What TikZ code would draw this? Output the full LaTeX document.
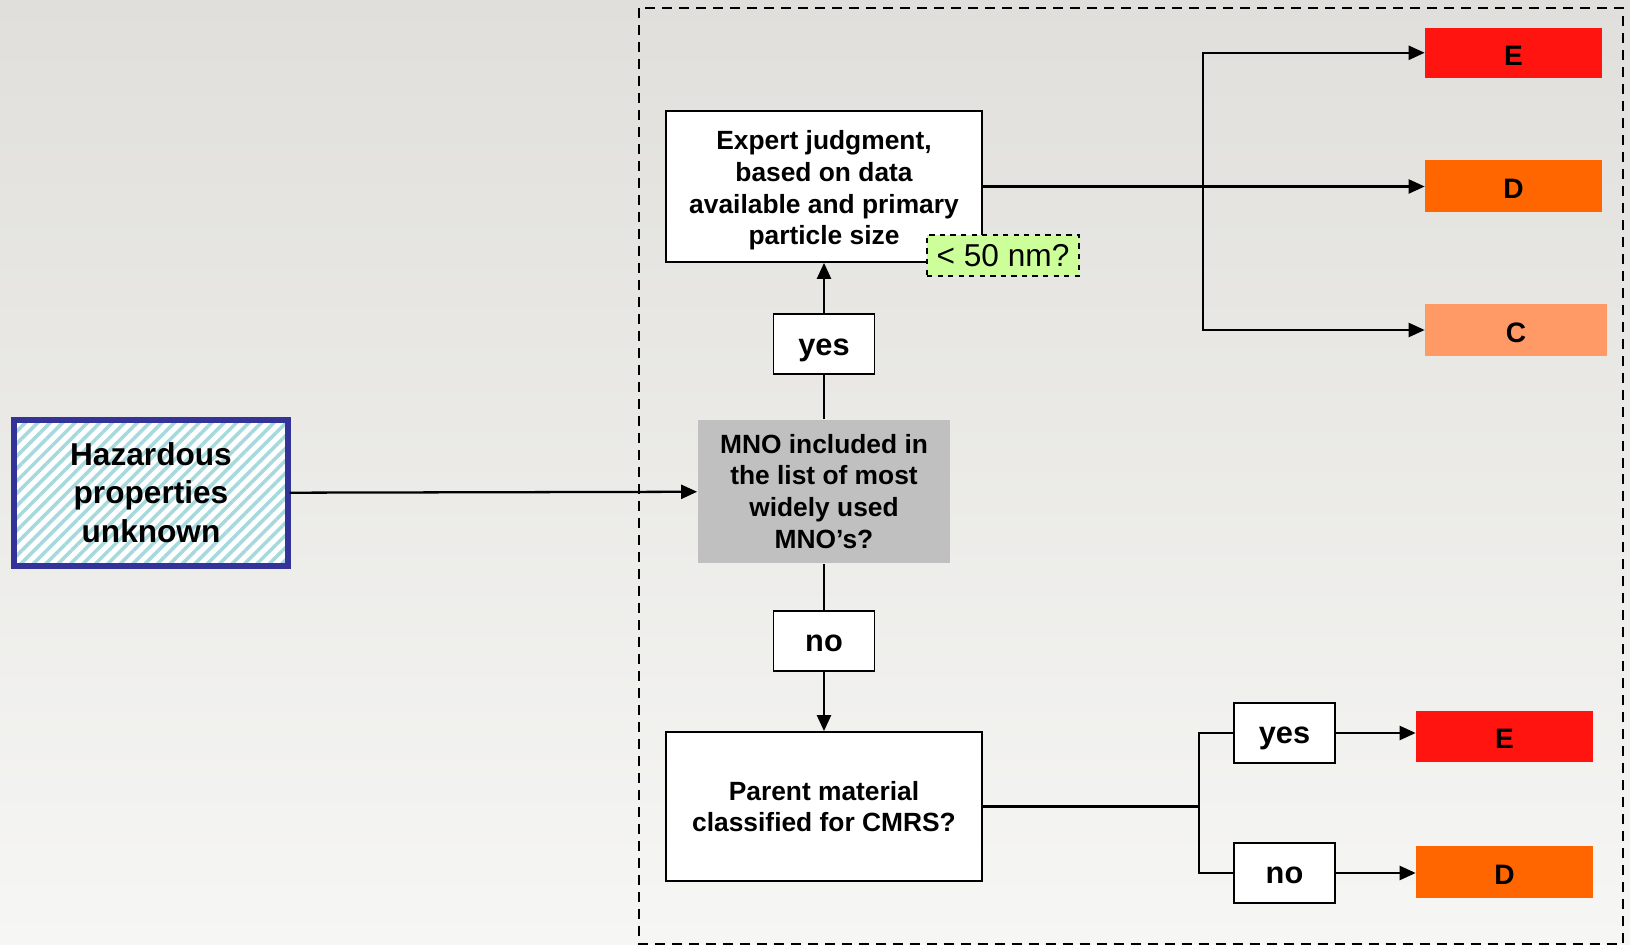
\documentclass[tikz,border=0pt]{standalone}
\usepackage{fontspec}
\setmainfont{Liberation Sans}
\usepackage{tikz}
\usetikzlibrary{arrows.meta,positioning,patterns.meta}
\definecolor{bgtop}{RGB}{224,223,219}
\definecolor{bgbot}{RGB}{246,246,244}
\definecolor{hazblue}{RGB}{51,51,153}
\definecolor{hatch}{RGB}{166,217,221}
\definecolor{mnogray}{RGB}{192,192,192}
\definecolor{nmgreen}{RGB}{204,255,153}
\definecolor{levelE}{RGB}{255,20,15}
\definecolor{levelD}{RGB}{255,102,0}
\definecolor{levelC}{RGB}{255,153,102}
\tikzset{
block/.style={
  rectangle,
  draw,
  fill=white,
  line width=1pt,
  align=center,
  inner sep=0pt,
  text depth=0pt,
  font=\fontsize{15}{18}\selectfont\bfseries},
answer/.style={
  block,
  minimum width=2.02cm,
  minimum height=1.2cm,
  text height=16.5pt,
  text depth=4pt,
  font=\fontsize{17.5}{21}\selectfont\bfseries},
level/.style={
  rectangle,
  minimum width=3.54cm,
  minimum height=1cm,
  inner sep=0pt,
  text height=16.9pt,
  text depth=3pt,
  font=\fontsize{16}{19}\selectfont\bfseries},
hazard/.style={
  rectangle,
  draw=hazblue,
  line width=3.4pt,
  preaction={fill=white},
  pattern={Lines[angle=45,distance=5pt,line width=2pt]},
  pattern color=hatch,
  align=center,
  text height=56.3pt,
  text depth=0pt,
  minimum width=5.48cm,
  minimum height=2.92cm,
  font=\fontsize{18}{22}\selectfont\bfseries},
line/.style={draw, line width=1.3pt, -{Triangle[length=0.32cm,width=0.28cm]}},
edge/.style={draw, line width=1.3pt}
}
\begin{document}
\begin{tikzpicture}[x=0.02cm,y=-0.02cm]
    \useasboundingbox (0,0) rectangle (1630,945);
    \shade [top color=bgtop, bottom color=bgbot] (0,0) rectangle (1630,945);
    \draw [line width=1.4pt, dash pattern=on 0.2cm off 0.14cm] (639,8) rectangle (1623,944);
    % left box
    \node [hazard] (haz) at (151,493) {Hazardous\\properties\\unknown};
    % middle column
    \node [block, fill=mnogray, draw=none, minimum width=5.04cm, minimum height=2.86cm,
      text height=64.4pt] (mno) at (824,491.5)
      {MNO included in\\the list of most\\widely used\\MNO’s?};
    \node [answer, above=0.88cm of mno] (yes1) {yes};
    \node [answer, below=0.92cm of mno] (no1) {no};
    \node [block, minimum width=6.32cm, minimum height=3.02cm, text height=66.4pt] (expert) at (824,186.5)
      {Expert judgment,\\based on data\\available and primary\\particle size};
    \node [block, fill=nmgreen, dashed, minimum width=3.04cm, minimum height=0.82cm,
      text height=16.7pt, text depth=4pt, font=\fontsize{18}{21}\selectfont] (nm) at (1003,255.5) {< 50 nm?};
    \node [block, minimum width=6.32cm, minimum height=2.98cm, text height=29pt] (parent) at (824,806.5)
      {Parent material\\classified for CMRS?};
    % levels, upper branch
    \node [level, fill=levelE] (E1) at (1513.5,52.8) {E};
    \node [level, fill=levelD, minimum height=1.03cm] (D1) at (1513.5,185.8) {D};
    \node [level, fill=levelC, minimum width=3.64cm, minimum height=1.04cm] (C1) at (1516,330) {C};
    \coordinate (br1) at (1203,186.5);
    % levels, lower branch
    \node [answer] (yes2) at (1284.5,733) {yes};
    \node [answer] (no2) at (1284.5,873) {no};
    \node [level, fill=levelE, minimum height=1.02cm] (E2) at (1504.5,736.5) {E};
    \node [level, fill=levelD, minimum height=1.04cm] (D2) at (1504.5,872) {D};
    \coordinate (br2) at (1199,806.5);
    % connectors
    \path [line] (haz) -- (mno);
    \path [edge] (mno) -- (yes1);
    \path [line] (yes1) -- (expert);
    \path [edge] (mno) -- (no1);
    \path [line] (no1) -- (parent);
    \path [line] (expert.east) -- (expert.east -| D1.west);
    \path [line] (br1) |- (E1.west);
    \path [line] (br1) |- (C1.west);
    \path [edge] (parent.east) -- (br2);
    \path [edge] (br2) |- (yes2.west);
    \path [edge] (br2) |- (no2.west);
    \path [line] (yes2) -- (yes2 -| E2.west);
    \path [line] (no2) -- (no2 -| D2.west);
\end{tikzpicture}
\end{document}
